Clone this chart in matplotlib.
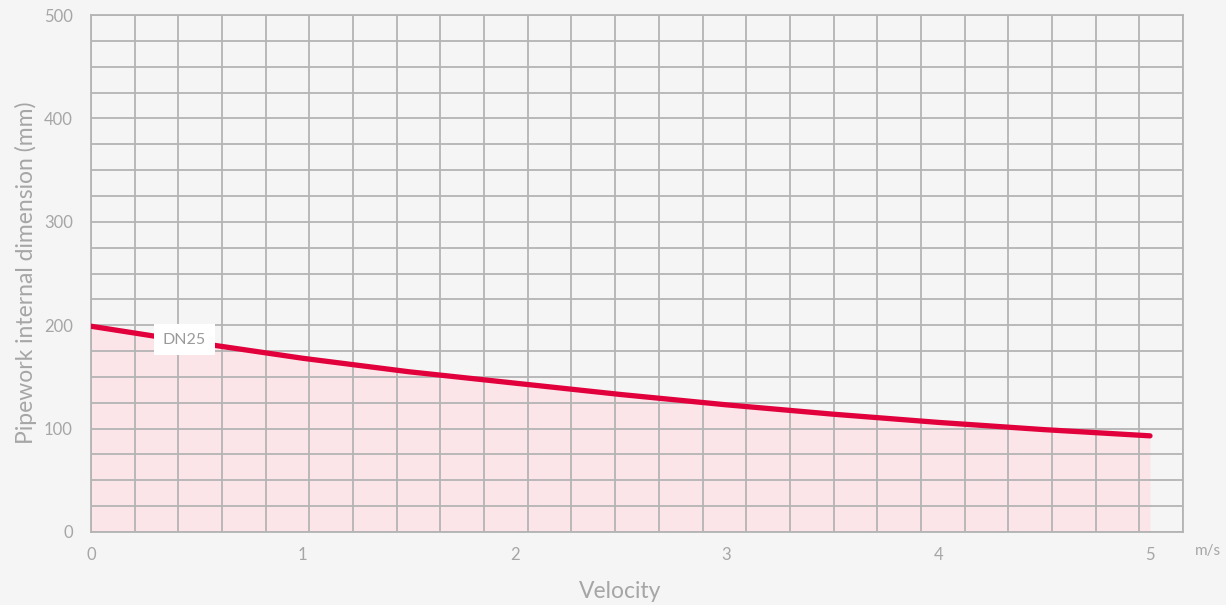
import numpy as np
import matplotlib.pyplot as plt

# velocity (m/s) vs internal dimension (mm)
velocity = [0, 0.5, 1, 1.5, 2, 2.5, 3, 3.5, 4, 4.5, 5]
dimension = [199, 183, 168, 155, 144, 133, 123, 114, 106, 99, 93]
x_ticks = [0, 1, 2, 3, 4, 5]
y_ticks = [0, 100, 200, 300, 400, 500]
series_label = "DN25"

bg = "#f5f5f5"
grey_txt = "#a6a6a6"
grid_c = "#b4b4b4"
red = "#e2003c"
pink = "#fbe5e8"

plt.rcParams['font.family'] = ['Lato', 'DejaVu Sans']

fig = plt.figure(figsize=(12.26, 6.05), dpi=100, facecolor=bg)
ax = fig.add_axes([91/1226, 1-532/605, (1183-91)/1226, (532-15)/605])
ax.set_facecolor(bg)

xmax = 5 + 33/211.8
ax.set_xlim(0, xmax)
ax.set_ylim(0, 500)

ax.fill_between(velocity, dimension, 0, color=pink, zorder=1, lw=0)

# grid: 25 columns, 20 rows
for gx in np.linspace(0, xmax, 26):
    ax.axvline(gx, color=grid_c, lw=1.3, zorder=2)
for gy in np.arange(0, 501, 25):
    ax.axhline(gy, color=grid_c, lw=1.3, zorder=2)

ax.plot(velocity, dimension, color=red, lw=3.8, solid_capstyle='round', zorder=3)

ax.text(0.44, 186, series_label, ha='center', va='center', fontsize=11.5, color="#9a9a9a",
        zorder=4, bbox=dict(boxstyle='square,pad=0.55', fc='white', ec='none'))

for s in ax.spines.values():
    s.set_color(grid_c)
    s.set_linewidth(1.3)

ax.set_xticks(x_ticks)
ax.set_yticks(y_ticks)
ax.tick_params(length=0, colors=grey_txt, labelsize=12)
ax.tick_params(axis='x', pad=11)
ax.tick_params(axis='y', pad=13)

ax.text(5 + 45/211.8, -12, "m/s", ha='left', va='top', fontsize=11, color=grey_txt)

fig.text(620/1226, 1-591/605, "Velocity", ha='center', va='center', fontsize=16.5, color=grey_txt)
fig.text(26/1226, 1-273/605, "Pipework internal dimension (mm)", ha='center', va='center',
         rotation=90, fontsize=16.5, color=grey_txt)

fig.savefig("out.png", dpi=100, facecolor=bg)
